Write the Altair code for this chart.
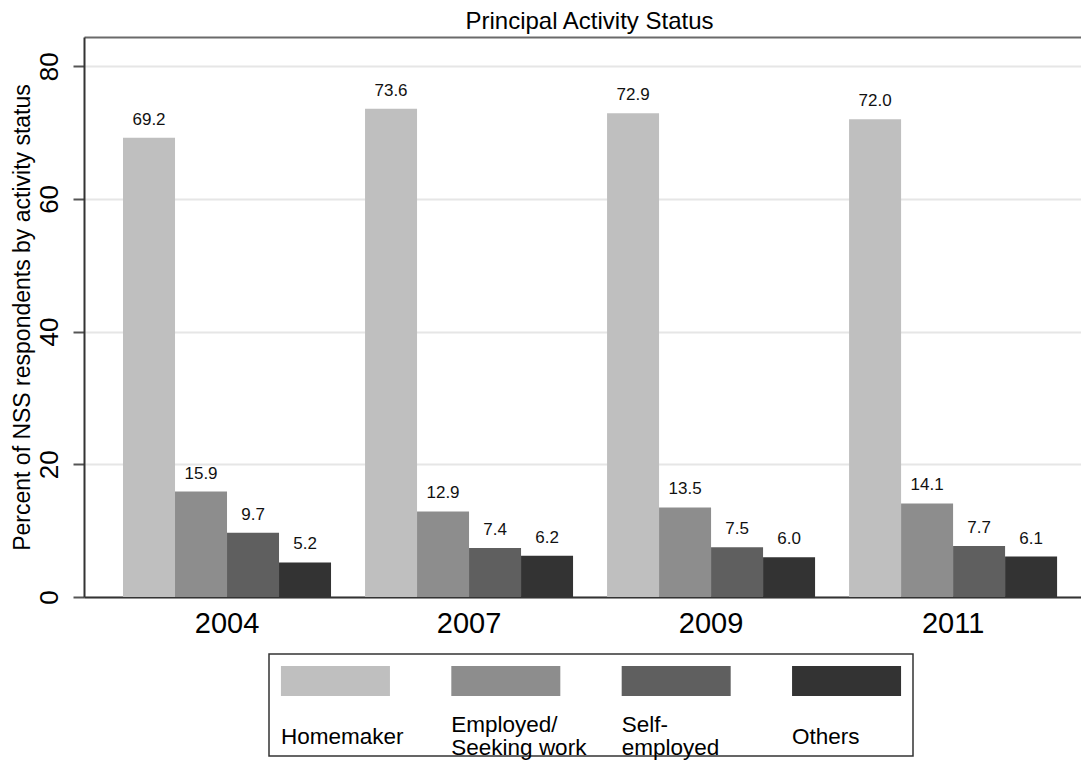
import altair as alt
import pandas as pd

years = ["2004", "2007", "2009", "2011"]
categories = ["Homemaker", "Employed/Seeking work", "Self-employed", "Others"]
legend_labels = ["Homemaker", "Employed/\nSeeking work", "Self-\nemployed", "Others"]
homemaker = [69.2, 73.6, 72.9, 72.0]
employed = [15.9, 12.9, 13.5, 14.1]
self_employed = [9.7, 7.4, 7.5, 7.7]
others = [5.2, 6.2, 6.0, 6.1]
colors = ["#bfbfbf", "#8d8d8d", "#5f5f5f", "#333333"]
y_ticks = [0, 20, 40, 60, 80]

series = [homemaker, employed, self_employed, others]
rows = []
for cat, vals in zip(categories, series):
    for yr, v in zip(years, vals):
        rows.append({"year": yr, "category": cat, "value": v, "label": f"{v:.1f}"})
df = pd.DataFrame(rows)

FONT = "Liberation Sans"

x_scale = alt.Scale(paddingInner=0.1405, paddingOuter=0.13, align=0.62)
y_enc = alt.Y(
    "value:Q",
    scale=alt.Scale(domain=[0, 84.4], nice=False, zero=True),
    axis=alt.Axis(
        values=y_ticks,
        title="Percent of NSS respondents by activity status",
        titleFontSize=23,
        titleFontWeight="normal",
        titleColor="#000000",
        titlePadding=2,
        labelFontSize=26,
        labelAngle=270,
        labelAlign="center",
        labelBaseline="alphabetic",
        labelPadding=16,
        labelColor="#000000",
        tickSize=11,
        tickWidth=2,
        tickColor="#555555",
        domainColor="#333333",
        domainWidth=2,
        gridColor="#e6e6e6",
        gridWidth=2,
    ),
)
xoff = alt.XOffset("category:N", sort=categories, scale=alt.Scale(paddingInner=0, paddingOuter=0))
color = alt.Color("category:N", sort=categories,
                  scale=alt.Scale(domain=categories, range=colors), legend=None)

bars = alt.Chart(df).mark_bar().encode(
    x=alt.X("year:N", sort=years, scale=x_scale,
            axis=alt.Axis(title=None, labelAngle=0, labelFontSize=29, ticks=False,
                          domainColor="#333333", domainWidth=2, labelPadding=12,
                          labelColor="#000000", grid=False)),
    xOffset=xoff,
    y=y_enc,
    color=color,
)

labels = alt.Chart(df).mark_text(baseline="alphabetic", dy=-13, fontSize=17, color="#111111").encode(
    x=alt.X("year:N", sort=years, scale=x_scale,
            axis=alt.Axis(orient="top", title=None, labels=False, ticks=False,
                          domainColor="#6a6a6a", domainWidth=2, grid=False)),
    xOffset=xoff,
    y=y_enc,
    text="label:N",
)

main = alt.layer(bars, labels).resolve_axis(x="independent").properties(
    width=997, height=560,
    title=alt.Title("Principal Activity Status", fontSize=24, fontWeight="normal",
                    color="#000000", anchor="middle", offset=3, dx=7),
    view=alt.ViewBackground(stroke=None),
)

leg_df = pd.DataFrame({"category": categories, "label": legend_labels})
leg_df["lines"] = [s.count("\n") + 1 for s in legend_labels]
leg_x = alt.X("category:N", sort=categories, scale=alt.Scale(type="point", padding=0.39), axis=None)
swatch = alt.Chart(leg_df).mark_bar(size=109).encode(
    x=leg_x, y=alt.value(12), y2=alt.value(42), color=color,
)
text_props = dict(align="left", baseline="middle", dx=-54.5, fontSize=22.5,
                  lineHeight=23, lineBreak="\n", color="#000000")
leg_text1 = alt.Chart(leg_df).transform_filter("datum.lines == 1").mark_text(**text_props).encode(
    x=leg_x, y=alt.value(83), text="label:N",
)
leg_text2 = alt.Chart(leg_df).transform_filter("datum.lines == 2").mark_text(**text_props).encode(
    x=leg_x, y=alt.value(71), text="label:N",
)
legend_chart = alt.layer(swatch, leg_text1, leg_text2).properties(
    width=644, height=102,
    view=alt.ViewBackground(stroke="#333333", strokeWidth=1.5),
)

spacer = alt.Chart(leg_df).mark_point(opacity=0).encode(
    x=alt.value(0), y=alt.value(0)
).properties(width=184, height=1, view=alt.ViewBackground(stroke=None))

chart = alt.vconcat(
    main,
    alt.hconcat(spacer, legend_chart, spacing=0),
    spacing=57,
    bounds="flush",
).configure(
    font=FONT,
    padding={"left": 3, "top": 2, "right": 0, "bottom": 0},
)

chart.save("out.html", embed_options={"renderer": "svg", "actions": False})
